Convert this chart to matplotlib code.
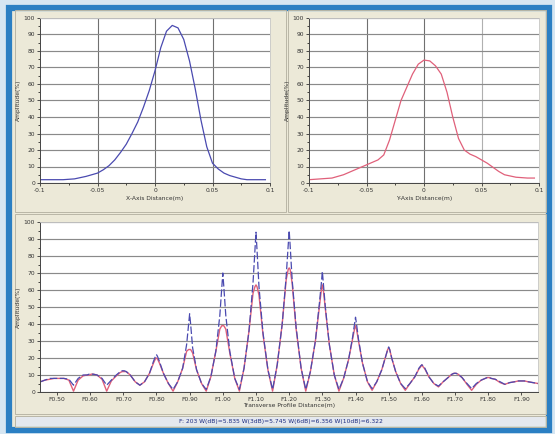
import numpy as np
import matplotlib
matplotlib.use("Agg")
import matplotlib.pyplot as plt
from matplotlib.patches import Rectangle

# --- data ---
# top-left: X-axis beam profile (blue)
x_left = [-0.1, -0.09, -0.08, -0.07, -0.06, -0.05, -0.045, -0.04, -0.035, -0.03,
          -0.025, -0.02, -0.015, -0.01, -0.005, 0, 0.005, 0.01, 0.015, 0.02,
          0.025, 0.03, 0.035, 0.04, 0.045, 0.05, 0.055, 0.06, 0.065, 0.07,
          0.075, 0.08, 0.09, 0.096]
amp_left = [2, 2, 2, 2.5, 4, 6, 8, 10.5, 14, 18.5,
            23.5, 30, 37, 46, 56, 68, 82, 92, 95.5, 94,
            87, 74, 57, 38, 22, 12, 8.5, 6, 4.5, 3.5,
            2.5, 2, 2, 2]

# top-right: Y-axis beam profile (red)
x_right = [-0.1, -0.09, -0.08, -0.07, -0.06, -0.05, -0.045, -0.04, -0.035, -0.03,
           -0.025, -0.02, -0.015, -0.01, -0.005, 0, 0.005, 0.01, 0.015, 0.02,
           0.025, 0.03, 0.035, 0.04, 0.045, 0.05, 0.055, 0.06, 0.065, 0.07,
           0.08, 0.09, 0.096]
amp_right = [2, 2.5, 3, 5, 8, 11, 12.5, 14, 17, 26,
             38, 50, 58, 66, 72, 74.5, 74, 71, 66, 55,
             40, 27, 20, 17.5, 16, 14, 12, 9.5, 7, 5,
             3.5, 3, 3]

# bottom: transverse profile, sampled around each lobe centre
lobe_pos = [0.50, 0.60, 0.70, 0.80, 0.90, 1.00, 1.10, 1.20, 1.30, 1.40, 1.50,
            1.60, 1.70, 1.80, 1.90]
lobe_offsets = [-0.05, -0.036, -0.021, -0.009, -0.003, 0, 0.003, 0.009, 0.021, 0.036]
blue_lobes = [
    [6, 7, 8, 8, 8, 8, 8, 8, 8, 7.5],
    [4, 8, 10, 10, 10.5, 10.5, 10.5, 10.5, 10, 8],
    [4, 7, 10, 12, 12.5, 12.5, 12.5, 12, 10, 6],
    [4, 6, 11, 18, 21, 22, 21, 18, 11, 5],
    [1.5, 6, 14, 28, 40, 46, 40, 26, 13, 5],
    [1.5, 9, 24, 45, 62, 70, 62, 45, 24, 8],
    [1.5, 14, 36, 64, 84, 94, 84, 62, 35, 13],
    [1.5, 16, 40, 68, 86, 95, 86, 66, 38, 14],
    [1.5, 12, 30, 52, 64, 71, 64, 50, 28, 10],
    [1.5, 8, 19, 32, 40, 44, 40, 31, 17, 6],
    [2, 6, 13, 21, 25, 26.5, 25, 20, 12, 5],
    [2, 5, 9, 14, 15.5, 16, 15.5, 14, 9, 5],
    [3.5, 6, 8.5, 10.5, 11, 11, 11, 10.5, 8.5, 5],
    [2, 5, 7, 8, 8.5, 8.5, 8.5, 8, 7.5, 6],
    [4.5, 5.5, 6, 6.5, 6.5, 6.5, 6.5, 6.5, 6, 5.5],
]
red_lobes = [
    [6, 7, 7.5, 8, 8, 8, 8, 8, 8, 7],
    [0.5, 7, 9.5, 10, 10, 10, 10.5, 10.5, 10, 7.5],
    [0.5, 6.5, 9.5, 11.5, 12, 12, 12, 12, 10, 6],
    [4, 6, 11, 17, 19.5, 20, 19.5, 17, 11, 5],
    [0.5, 6, 14, 24, 25, 25, 25, 23, 13, 5],
    [0.5, 9, 24, 37, 39, 39, 39, 37, 23, 8],
    [0.5, 14, 36, 58, 62, 63, 62, 57, 34, 13],
    [0.5, 16, 40, 66, 72, 73, 72, 64, 37, 14],
    [0.5, 12, 30, 50, 60, 63, 60, 49, 28, 10],
    [0.5, 8, 19, 31, 37, 39, 37, 30, 17, 6],
    [1, 6, 13, 21, 25, 26, 25, 20, 12, 5],
    [1, 5, 9, 13.5, 15, 16, 15, 13.5, 9, 5],
    [3, 6, 8.5, 10.5, 11, 11, 11, 10.5, 8.5, 4.5],
    [1, 4.5, 7, 8, 8.5, 8.5, 8.5, 8, 7.5, 5.5],
    [4.5, 5.5, 6, 6.5, 6.5, 6.5, 6.5, 6.5, 6, 5.5],
]
end_x, end_val = 1.95, 5

top_xticks = [-0.1, -0.05, 0, 0.05, 0.1]
top_xticklabels = ["-0.1", "-0.05", "0", "0.05", "0.1"]
bottom_xticklabels = ["F0.50", "F0.60", "F0.70", "F0.80", "F0.90", "F1.00", "F1.10",
                      "F1.20", "F1.30", "F1.40", "F1.50", "F1.60", "F1.70", "F1.80", "F1.90"]
status_text = "F: 203 W(dB)=5.835 W(3dB)=5.745 W(6dB)=6.356 W(10dB)=6.322"

# --- styling ---
PANEL = "#ECE9D8"
FRAME = "#2B7FC3"
GRID = "#8A8A8A"
BLUE = "#4A4AB0"
RED = "#E0607A"
FS = 4.3

W, H = 555, 434
fig = plt.figure(figsize=(W / 100, H / 100), dpi=100, facecolor="#D6E6F2")


def fx(px):
    return px / W


def fy(py):
    return 1 - py / H


# window frame and panels
fig.patches.append(Rectangle((fx(9), fy(430)), fx(540), 422 / H, transform=fig.transFigure,
                             facecolor=PANEL, edgecolor=FRAME, lw=4.5, zorder=-5))
for (x0, y0, x1, y1) in [(15, 10, 286, 212), (288, 10, 546, 212), (15, 214, 546, 414),
                         (15, 416, 546, 427)]:
    fig.patches.append(Rectangle((fx(x0), fy(y1)), fx(x1 - x0), (y1 - y0) / H,
                                 transform=fig.transFigure, facecolor="none",
                                 edgecolor="#B9B6A6", lw=0.7, zorder=-4))
fig.patches.append(Rectangle((fx(16), fy(426)), fx(529), 9 / H, transform=fig.transFigure,
                             facecolor="#E4E8EE", edgecolor="none", zorder=-4))


def style_axes(ax):
    ax.set_facecolor("white")
    ax.set_ylim(0, 100)
    ax.set_yticks(np.arange(0, 101, 10))
    ax.set_yticks(np.arange(0, 101, 5), minor=True)
    ax.yaxis.grid(True, color=GRID, lw=0.85)
    ax.tick_params(labelsize=FS, length=2.5, width=0.6, pad=1, colors="#333333")
    ax.tick_params(which="minor", length=1.2, width=0.5)
    for side in ["top", "right"]:
        ax.spines[side].set_color("#C8C8C8")
        ax.spines[side].set_linewidth(0.6)
    for side in ["left", "bottom"]:
        ax.spines[side].set_color("#444444")
        ax.spines[side].set_linewidth(0.7)
    ax.set_ylabel("Amplitude(%)", fontsize=FS, labelpad=2, color="#333333")
    ax.set_axisbelow(True)


# top-left
ax1 = fig.add_axes([fx(40), fy(183), fx(230), 165 / H])
style_axes(ax1)
ax1.plot(x_left, amp_left, color=BLUE, lw=0.9)
ax1.set_xlim(-0.1, 0.1)
ax1.set_xticks(top_xticks)
ax1.set_xticklabels(top_xticklabels)
ax1.set_xticks([-0.075, -0.025, 0.025, 0.075], minor=True)
for v in [-0.05, 0, 0.05]:
    ax1.axvline(v, color="#707070", lw=0.8, zorder=0)
ax1.set_xlabel("X-Axis Distance(m)", fontsize=FS, labelpad=2, color="#333333")

# top-right
ax2 = fig.add_axes([fx(309), fy(183), fx(230), 165 / H])
style_axes(ax2)
ax2.plot(x_right, amp_right, color=RED, lw=0.9)
ax2.set_xlim(-0.1, 0.1)
ax2.set_xticks(top_xticks)
ax2.set_xticklabels(top_xticklabels)
ax2.set_xticks([-0.075, -0.025, 0.025, 0.075], minor=True)
for v, c in [(-0.05, "#707070"), (0, "#707070"), (0.05, "#B0B0B0")]:
    ax2.axvline(v, color=c, lw=0.8, zorder=0)
ax2.set_xlabel("Y-Axis Distance(m)", fontsize=FS, labelpad=2, color="#333333")

# bottom
ax3 = fig.add_axes([fx(40), fy(392), fx(498), 170 / H])
style_axes(ax3)
xs = np.concatenate([np.add(c, lobe_offsets) for c in lobe_pos] + [[end_x]])
blue_vals = np.concatenate(blue_lobes + [[end_val]])
red_vals = np.concatenate(red_lobes + [[end_val]])
ax3.plot(xs, red_vals, color=RED, lw=1.0)
ax3.plot(xs, blue_vals, color=BLUE, lw=0.9, ls=(0, (6, 2)))
ax3.set_xlim(0.449, 1.95)
ax3.set_xticks(lobe_pos)
ax3.set_xticklabels(bottom_xticklabels)
ax3.set_xlabel("Transverse Profile Distance(m)", fontsize=FS, labelpad=1, color="#333333")

fig.text(fx(281), fy(421.5), status_text, fontsize=FS, color="#1A2A80",
         ha="center", va="center")

fig.savefig("out.png", dpi=100, facecolor=fig.get_facecolor())
